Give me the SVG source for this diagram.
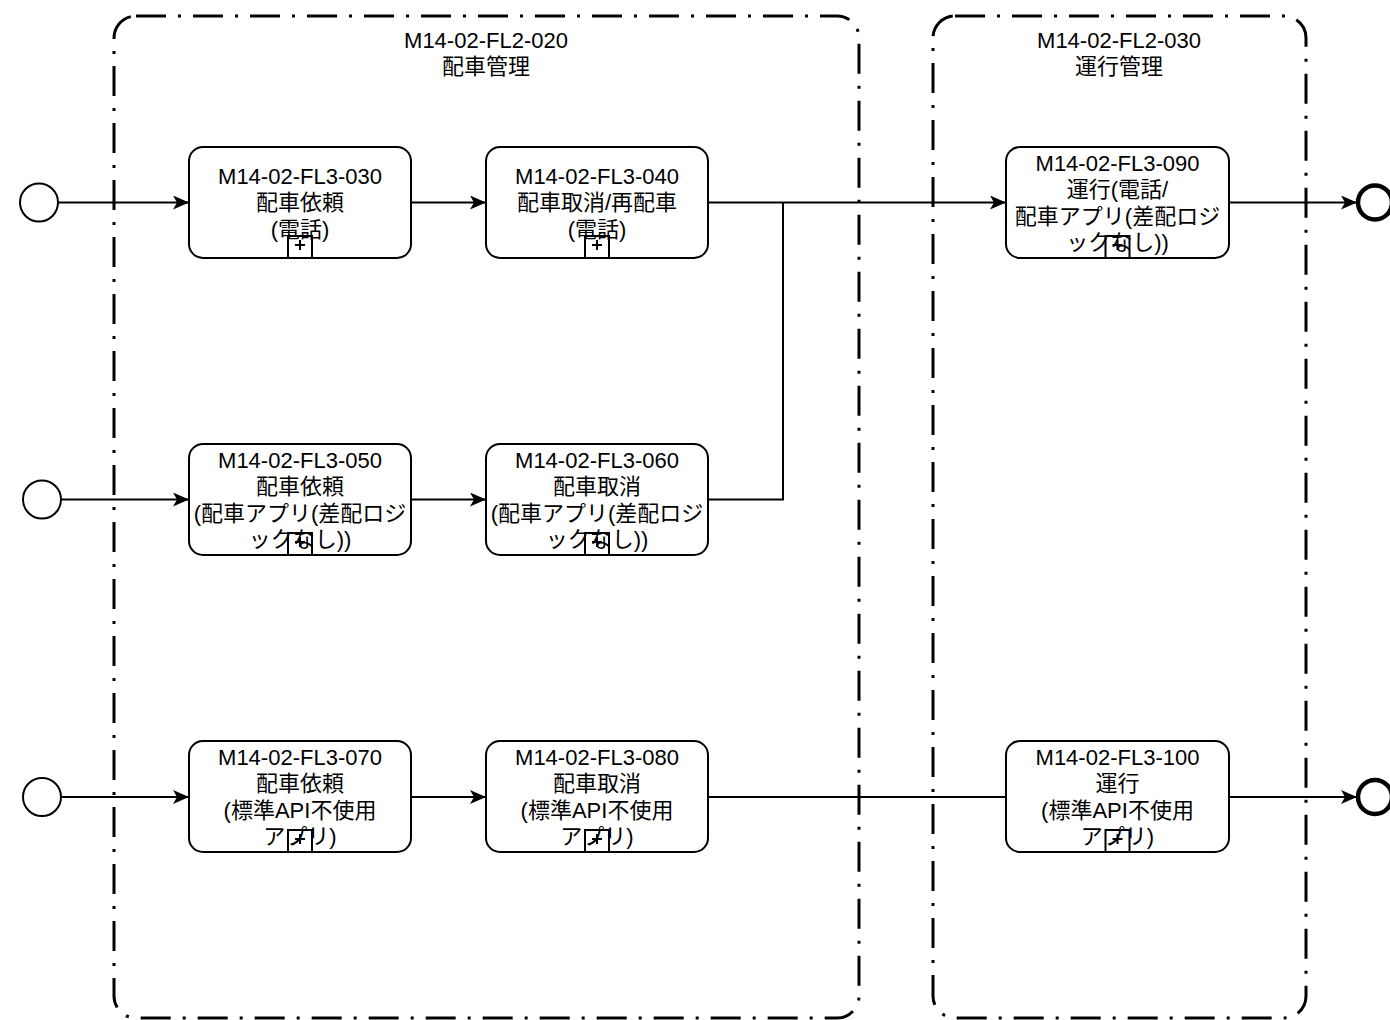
<svg xmlns="http://www.w3.org/2000/svg" width="1390" height="1020" viewBox="0 0 1390 1020">
<defs>
<style>
text{font-family:"Liberation Sans","Noto Sans CJK JP",sans-serif;font-size:22px;fill:#000;text-anchor:middle}
.grp{fill:none;stroke:#000;stroke-width:3;stroke-dasharray:30 12 3 12}
.task{fill:#fff;stroke:#000;stroke-width:2}
.mk{fill:none;stroke:#000;stroke-width:2}
.start{fill:#fff;stroke:#000;stroke-width:2}
.end{fill:#fff;stroke:#000;stroke-width:4.5}
.edge{fill:none;stroke:#000;stroke-width:2}
</style>
<marker id="arr" markerUnits="userSpaceOnUse" viewBox="0 0 16 14" refX="16" refY="7" markerWidth="16" markerHeight="14" orient="auto">
<path d="M0,0 L16,7 L0,14 L4,7 z" fill="#000"/>
</marker>
</defs>
<rect width="1390" height="1020" fill="#fff"/>

<g id="group-020">
<rect class="grp" x="114" y="16" width="745" height="1002" rx="22"/>
<text x="486" y="47.5">M14-02-FL2-020</text>
<text x="486" y="74">配車管理</text>
</g>
<g id="group-030">
<rect class="grp" x="933" y="16" width="373" height="1002" rx="22"/>
<text x="1119" y="47.5">M14-02-FL2-030</text>
<text x="1119" y="74">運行管理</text>
</g>

<g id="connectors">
<path class="edge" d="M58,202.5 H189" marker-end="url(#arr)"/>
<path class="edge" d="M411,202.5 H486" marker-end="url(#arr)"/>
<path class="edge" d="M708,202.5 H1006" marker-end="url(#arr)"/>
<path class="edge" d="M708,499.5 H783 V202.5"/>
<path class="edge" d="M61,499.5 H189" marker-end="url(#arr)"/>
<path class="edge" d="M411,499.5 H486" marker-end="url(#arr)"/>
<path class="edge" d="M61,797 H189" marker-end="url(#arr)"/>
<path class="edge" d="M411,797 H486" marker-end="url(#arr)"/>
<path class="edge" d="M708,797 H1006"/>
<path class="edge" d="M1229,202.5 H1357" marker-end="url(#arr)"/>
<path class="edge" d="M1229,797 H1357" marker-end="url(#arr)"/>
</g>

<g id="start1"><circle class="start" cx="39" cy="202.5" r="19"/></g>
<g id="start2"><circle class="start" cx="42" cy="499.5" r="19"/></g>
<g id="start3"><circle class="start" cx="42" cy="797" r="19"/></g>
<g id="end1"><circle class="end" cx="1375" cy="202.5" r="17"/></g>
<g id="end2"><circle class="end" cx="1375" cy="797" r="17"/></g>

<g id="task-030">
<rect class="task" x="189" y="147" width="222" height="111" rx="14"/>
<rect class="mk" x="288" y="236" width="24" height="22"/>
<path class="mk" d="M295,245 H305 M300,240 V250"/>
<text x="300" y="183.5">M14-02-FL3-030</text>
<text x="300" y="210">配車依頼</text>
<text x="300" y="236.5">(電話)</text>
</g>
<g id="task-040">
<rect class="task" x="486" y="147" width="222" height="111" rx="14"/>
<rect class="mk" x="585" y="236" width="24" height="22"/>
<path class="mk" d="M592,245 H602 M597,240 V250"/>
<text x="597" y="183.5">M14-02-FL3-040</text>
<text x="597" y="210">配車取消/再配車</text>
<text x="597" y="236.5">(電話)</text>
</g>
<g id="task-050">
<rect class="task" x="189" y="444" width="222" height="111" rx="14"/>
<rect class="mk" x="288" y="533" width="24" height="22"/>
<path class="mk" d="M295,542 H305 M300,537 V547"/>
<text x="300" y="467.5">M14-02-FL3-050</text>
<text x="300" y="494">配車依頼</text>
<text x="300" y="520.5">(配車アプリ(差配ロジ</text>
<text x="300" y="547">ックなし))</text>
</g>
<g id="task-060">
<rect class="task" x="486" y="444" width="222" height="111" rx="14"/>
<rect class="mk" x="585" y="533" width="24" height="22"/>
<path class="mk" d="M592,542 H602 M597,537 V547"/>
<text x="597" y="467.5">M14-02-FL3-060</text>
<text x="597" y="494">配車取消</text>
<text x="597" y="520.5">(配車アプリ(差配ロジ</text>
<text x="597" y="547">ックなし))</text>
</g>
<g id="task-070">
<rect class="task" x="189" y="741" width="222" height="111" rx="14"/>
<rect class="mk" x="288" y="830" width="24" height="22"/>
<path class="mk" d="M295,839 H305 M300,834 V844"/>
<text x="300" y="764.5">M14-02-FL3-070</text>
<text x="300" y="791">配車依頼</text>
<text x="300" y="817.5">(標準API不使用</text>
<text x="300" y="844">アプリ)</text>
</g>
<g id="task-080">
<rect class="task" x="486" y="741" width="222" height="111" rx="14"/>
<rect class="mk" x="585" y="830" width="24" height="22"/>
<path class="mk" d="M592,839 H602 M597,834 V844"/>
<text x="597" y="764.5">M14-02-FL3-080</text>
<text x="597" y="791">配車取消</text>
<text x="597" y="817.5">(標準API不使用</text>
<text x="597" y="844">アプリ)</text>
</g>
<g id="task-090">
<rect class="task" x="1006" y="147" width="223" height="111" rx="14"/>
<rect class="mk" x="1105.5" y="236" width="24" height="22"/>
<path class="mk" d="M1112.5,245 H1122.5 M1117.5,240 V250"/>
<text x="1117.5" y="170.5">M14-02-FL3-090</text>
<text x="1117.5" y="197">運行(電話/</text>
<text x="1117.5" y="223.5">配車アプリ(差配ロジ</text>
<text x="1117.5" y="250">ックなし))</text>
</g>
<g id="task-100">
<rect class="task" x="1006" y="741" width="223" height="111" rx="14"/>
<rect class="mk" x="1105.5" y="830" width="24" height="22"/>
<path class="mk" d="M1112.5,839 H1122.5 M1117.5,834 V844"/>
<text x="1117.5" y="764.5">M14-02-FL3-100</text>
<text x="1117.5" y="791">運行</text>
<text x="1117.5" y="817.5">(標準API不使用</text>
<text x="1117.5" y="844">アプリ)</text>
</g>
</svg>
